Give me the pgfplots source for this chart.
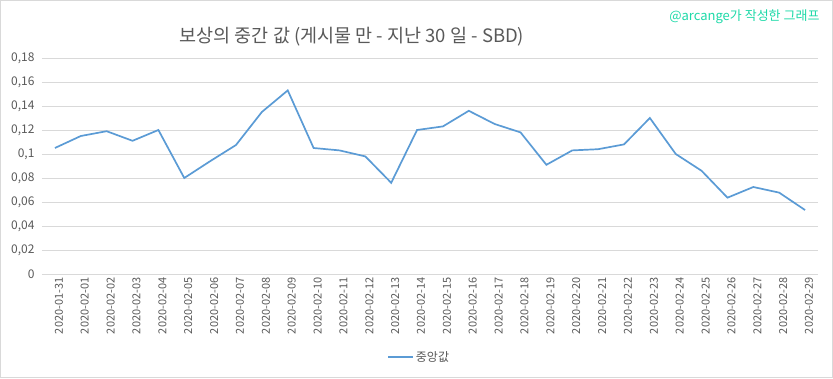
\documentclass[border=0pt]{standalone}
\usepackage{pgfplots}
\pgfplotsset{compat=1.18}
\usepackage{fontspec}
\setmainfont{Noto Sans CJK KR}
\definecolor{txt}{HTML}{595959}
\definecolor{gridc}{HTML}{D9D9D9}
\definecolor{serie}{HTML}{5B9BD5}
\definecolor{wm}{HTML}{1ED9A8}
\begin{document}
\begin{tikzpicture}[x=1pt,y=1pt]
\path[use as bounding box] (0,0) rectangle (833,378);
\draw[gridc, line width=1pt] (0.5,0.5) rectangle (832.5,377.5);
\node[txt, font=\fontsize{18.5}{22}\selectfont] at (352,341) {보상의 중간 값 (게시물 만 - 지난 30 일 - SBD)};
\node[wm, anchor=east, font=\fontsize{13}{15}\selectfont] at (823,361) {@arcange가 작성한 그래프};
\begin{axis}[at={(42pt,104pt)}, anchor=south west, scale only axis,
  width=776pt, height=216pt,
  xmin=-0.5, xmax=29.5, ymin=0, ymax=0.18,
  axis line style={draw=none},
  ymajorgrids, grid style={gridc, line width=0.9pt},
  major tick length=0pt,
  ytick={0,0.02,0.04,0.06,0.08,0.1,0.12,0.14,0.16,0.18},
  yticklabels={0,{0,02},{0,04},{0,06},{0,08},{0,1},{0,12},{0,14},{0,16},{0,18}},
  yticklabel style={font=\fontsize{12}{14}\selectfont, text=txt, xshift=-4pt},
  xtick={0,...,29},
  xticklabels={2020-01-31,2020-02-01,2020-02-02,2020-02-03,2020-02-04,2020-02-05,2020-02-06,2020-02-07,2020-02-08,2020-02-09,2020-02-10,2020-02-11,2020-02-12,2020-02-13,2020-02-14,2020-02-15,2020-02-16,2020-02-17,2020-02-18,2020-02-19,2020-02-20,2020-02-21,2020-02-22,2020-02-23,2020-02-24,2020-02-25,2020-02-26,2020-02-27,2020-02-28,2020-02-29},
  xticklabel style={rotate=90, anchor=east, font=\fontsize{11}{13}\selectfont, text=txt, yshift=-4pt},
  legend style={at={(0.486,-0.384)}, anchor=center, draw=none, fill=none,
    font=\fontsize{12}{14}\selectfont, text=txt},
  legend image code/.code={\draw[#1] (0pt,0pt) -- (25pt,0pt);},
  clip=false,
]
\addplot[serie, line width=1.7pt] coordinates {
(0,0.105) (1,0.115) (2,0.119) (3,0.111) (4,0.120) (5,0.080) (6,0.094) (7,0.1075)
(8,0.135) (9,0.153) (10,0.105) (11,0.103) (12,0.098) (13,0.076) (14,0.120)
(15,0.123) (16,0.136) (17,0.125) (18,0.118) (19,0.091) (20,0.103) (21,0.104)
(22,0.108) (23,0.130) (24,0.100) (25,0.086) (26,0.0636) (27,0.0725) (28,0.0678) (29,0.0533)
};
\addlegendentry{중앙값}
\end{axis}
\end{tikzpicture}
\end{document}
